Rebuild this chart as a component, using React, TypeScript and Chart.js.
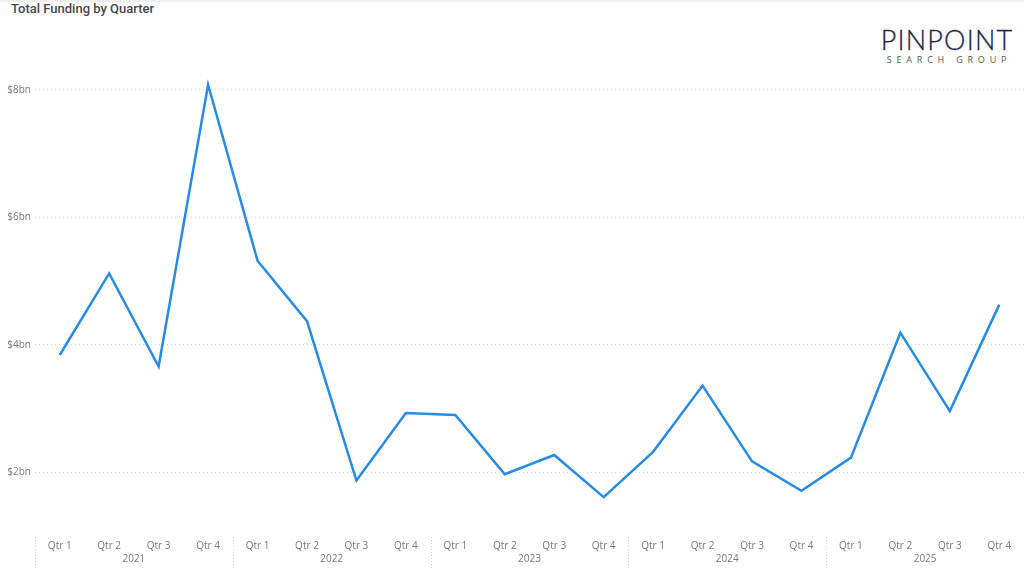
import { useEffect, useRef } from 'react';
import { Chart, registerables } from 'chart.js';
import type { ChartConfiguration, Plugin } from 'chart.js';

Chart.register(...registerables);

// Funding per quarter, in $bn
const quarters = [
  'Qtr 1', 'Qtr 2', 'Qtr 3', 'Qtr 4',
  'Qtr 1', 'Qtr 2', 'Qtr 3', 'Qtr 4',
  'Qtr 1', 'Qtr 2', 'Qtr 3', 'Qtr 4',
  'Qtr 1', 'Qtr 2', 'Qtr 3', 'Qtr 4',
  'Qtr 1', 'Qtr 2', 'Qtr 3', 'Qtr 4',
];
const years = ['2021', '2022', '2023', '2024', '2025'];
const funding = [
  3.84, 5.12, 3.66, 8.08,
  5.32, 4.37, 1.87, 2.93,
  2.9, 1.97, 2.27, 1.61,
  2.32, 3.36, 2.17, 1.71,
  2.23, 4.19, 2.96, 4.63,
];
const yTicks = [2, 4, 6, 8];

const LINE_BLUE = '#268be6';
const LABEL_GREY = '#777';
const FONT = "'Open Sans', 'Noto Sans', sans-serif";

// dotted separators between the year groups on the x axis
const yearSeparators: Plugin<'line'> = {
  id: 'yearSeparators',
  afterDraw(chart) {
    const x = chart.scales.x;
    const x2 = chart.scales.x2;
    if (!x || !x2) return;
    const half = (x.getPixelForValue(1) - x.getPixelForValue(0)) / 2;
    const perYear = quarters.length / years.length;
    const { ctx } = chart;
    ctx.save();
    ctx.strokeStyle = '#d0d0d0';
    ctx.lineWidth = 1;
    ctx.setLineDash([1, 2]);
    for (let i = 0; i < years.length; i++) {
      const px = Math.round(x.getPixelForValue(i * perYear) - half) + 0.5;
      ctx.beginPath();
      ctx.moveTo(px, x.top + 1);
      ctx.lineTo(px, x2.bottom + 3);
      ctx.stroke();
    }
    ctx.restore();
  },
};

export default function App() {
  const chartRef = useRef<HTMLCanvasElement>(null);
  const chartInstanceRef = useRef<Chart | null>(null);

  useEffect(() => {
    if (!chartRef.current) return;
    if (chartInstanceRef.current) chartInstanceRef.current.destroy();

    const ctx = chartRef.current.getContext('2d');
    if (!ctx) return;

    const config: ChartConfiguration<'line'> = {
      type: 'line',
      data: {
        labels: quarters,
        datasets: [
          {
            label: 'Total Funding',
            data: funding,
            borderColor: LINE_BLUE,
            backgroundColor: LINE_BLUE,
            borderWidth: 2.5,
            pointRadius: 0,
            tension: 0,
            fill: false,
          },
        ],
      },
      options: {
        animation: false,
        responsive: true,
        maintainAspectRatio: false,
        layout: { padding: { top: 58, right: 0, bottom: 9, left: 0 } },
        plugins: {
          legend: { display: false },
          tooltip: { enabled: false },
        },
        scales: {
          y: {
            min: 1,
            max: 8.5,
            afterBuildTicks: (axis) => {
              axis.ticks = yTicks.map((value) => ({ value }));
            },
            afterFit: (axis) => {
              axis.width = 35;
            },
            ticks: {
              callback: (value) => `$${value}bn`,
              color: LABEL_GREY,
              font: { family: FONT, size: 10 },
              padding: 4,
            },
            grid: {
              color: '#d6d6d6',
              drawTicks: false,
            },
            border: { display: false, dash: [1, 3] },
          },
          x: {
            offset: true,
            afterFit: (axis) => {
              axis.height = 16;
            },
            ticks: {
              color: LABEL_GREY,
              font: { family: FONT, size: 10 },
              padding: 4,
              maxRotation: 0,
              autoSkip: false,
            },
            grid: { display: false, drawTicks: false },
            border: { display: false },
          },
          x2: {
            type: 'category',
            position: 'bottom',
            labels: years,
            offset: true,
            afterFit: (axis) => {
              axis.height = 15;
            },
            ticks: {
              color: LABEL_GREY,
              font: { family: FONT, size: 10 },
              padding: 1,
              maxRotation: 0,
            },
            grid: { display: false, drawTicks: false },
            border: { display: false },
          },
        },
      },
      plugins: [yearSeparators],
    };

    chartInstanceRef.current = new Chart(ctx, config);

    return () => {
      if (chartInstanceRef.current) {
        chartInstanceRef.current.destroy();
        chartInstanceRef.current = null;
      }
    };
  }, []);

  return (
    <div
      style={{
        position: 'fixed',
        inset: 0,
        width: 1024,
        height: 576,
        background: '#fff',
        overflow: 'hidden',
        fontFamily: FONT,
      }}
    >
      <div style={{ position: 'absolute', left: 0, top: 0, width: 1024, height: 2, background: '#eeeeee' }} />
      <div
        style={{
          position: 'absolute',
          left: 11,
          top: 1,
          fontFamily: "Roboto, 'Open Sans', sans-serif",
          fontWeight: 500,
          fontSize: 13,
          lineHeight: '15px',
          color: '#474747',
          whiteSpace: 'nowrap',
        }}
      >
        Total Funding by Quarter
      </div>
      <div style={{ position: 'absolute', left: 880, top: 26, width: 134, textAlign: 'center' }}>
        <div
          style={{
            fontFamily: "Lato, 'Open Sans', sans-serif",
            fontWeight: 300,
            fontSize: 27,
            lineHeight: '28px',
            letterSpacing: 1.2,
            color: '#232749',
            WebkitTextStroke: '0.3px #232749',
          }}
        >
          PINPOINT
        </div>
        <div
          style={{
            fontSize: 9,
            lineHeight: '12px',
            letterSpacing: 4.8,
            color: '#555',
            marginTop: 0,
            paddingLeft: 4,
          }}
        >
          SEARCH GROUP
        </div>
      </div>
      <div style={{ position: 'absolute', left: 0, top: 0, width: 1024, height: 576 }}>
        <canvas ref={chartRef} />
      </div>
    </div>
  );
}
